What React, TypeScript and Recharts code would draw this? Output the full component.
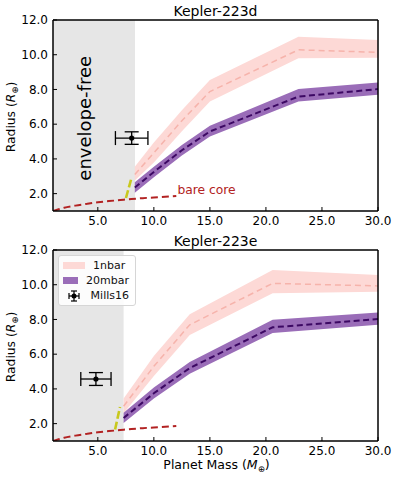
import React from "react";
import {
  ComposedChart,
  Area,
  Line,
  Scatter,
  ErrorBar,
  XAxis,
  YAxis,
  ReferenceArea,
  ReferenceDot,
  Legend,
} from "recharts";

const FONT = "'DejaVu Sans', sans-serif";

const X_TICKS = [5, 10, 15, 20, 25, 30];
const Y_TICKS = [2, 4, 6, 8, 10, 12];

// Kepler-223d
const dMass = [8.3, 10, 12.5, 15, 22.9, 30];
const d1nbar = [3.1, 4.35, 6.2, 7.88, 10.28, 10.14];
const d1nbarLo = [2.75, 3.8, 5.6, 7.3, 9.8, 9.82];
const d1nbarHi = [3.55, 4.95, 6.8, 8.55, 11.04, 10.85];
const d20mbar = [2.35, 3.25, 4.5, 5.58, 7.59, 8.02];
const d20mbarLo = [2.05, 2.95, 4.2, 5.29, 7.3, 7.69];
const d20mbarHi = [2.65, 3.55, 4.8, 5.91, 8.02, 8.4];
const dGasFree = 8.32;
const dMills = { mass: 8.02, radius: 5.2, errMass: 1.45, errRadius: 0.36 };
const dTransMass = [7.51, 7.96];
const dTransRadius = [1.75, 2.8];

// Kepler-223e
const eMass = [7.3, 10, 13.2, 20.6, 30];
const e1nbar = [3.0, 5.3, 7.69, 10.08, 9.93];
const e1nbarLo = [2.6, 4.75, 7.1, 9.51, 9.6];
const e1nbarHi = [3.45, 5.9, 8.3, 10.85, 10.56];
const e20mbar = [2.33, 3.75, 5.2, 7.55, 8.02];
const e20mbarLo = [2.03, 3.45, 4.88, 7.22, 7.69];
const e20mbarHi = [2.63, 4.08, 5.55, 7.98, 8.4];
const eGasFree = 7.3;
const eMills = { mass: 4.83, radius: 4.57, errMass: 1.35, errRadius: 0.37 };
const eTransMass = [6.54, 6.98];
const eTransRadius = [1.66, 2.96];

// bare rocky core
const coreMass = [1, 1.5, 2, 3, 4, 5, 6, 7, 8, 9, 10, 11, 12];
const coreRadius = [1.0, 1.1, 1.19, 1.31, 1.41, 1.5, 1.57, 1.63, 1.69, 1.74, 1.78, 1.82, 1.86];

const PINK_BAND = "#fdd9d6";
const PINK_LINE = "#f6b3ab";
const PURPLE_BAND = "#9a6db8";
const PURPLE_LINE = "#3c0863";
const CORE = "#b22222";
const TRANS = "#c8c81e";

const rows = (xs: number[], ys: number[], lo: number[], hi: number[]) =>
  xs.map((m, i) => ({ mass: m, r: ys[i], band: [lo[i], hi[i]] }));
const pts = (xs: number[], ys: number[]) => xs.map((m, i) => ({ mass: m, r: ys[i] }));

function LegendBox() {
  const row = { display: "flex", alignItems: "center", height: 15 } as const;
  return (
    <div
      style={{
        border: "1px solid #d6d6d6",
        borderRadius: 3,
        background: "rgba(255,255,255,0.85)",
        padding: "2px 6px 2px 4px",
        fontFamily: FONT,
        fontSize: 11,
        color: "#111",
        width: 66,
      }}
    >
      <div style={row}>
        <div style={{ width: 22, height: 7, background: PINK_BAND, marginRight: 8 }} />
        1nbar
      </div>
      <div style={row}>
        <div style={{ width: 22, height: 7, background: PURPLE_BAND, marginRight: 8 }} />
        20mbar
      </div>
      <div style={row}>
        <svg width={22} height={12} style={{ marginRight: 8 }}>
          <line x1={6} x2={16} y1={6} y2={6} stroke="#000" strokeWidth={1.2} />
          <line x1={11} x2={11} y1={1} y2={11} stroke="#000" strokeWidth={1.2} />
          <line x1={6} x2={6} y1={3} y2={9} stroke="#000" strokeWidth={1.2} />
          <line x1={16} x2={16} y1={3} y2={9} stroke="#000" strokeWidth={1.2} />
          <line x1={8} x2={14} y1={1} y2={1} stroke="#000" strokeWidth={1.2} />
          <line x1={8} x2={14} y1={11} y2={11} stroke="#000" strokeWidth={1.2} />
          <circle cx={11} cy={6} r={2.5} fill="#000" />
        </svg>
        Mills16
      </div>
    </div>
  );
}

type PanelProps = {
  mass: number[];
  a: number[];
  aLo: number[];
  aHi: number[];
  b: number[];
  bLo: number[];
  bHi: number[];
  gasFree: number;
  mills: { mass: number; radius: number; errMass: number; errRadius: number };
  transMass: number[];
  transRadius: number[];
  annotate: boolean;
  legend: boolean;
};

function Panel(p: PanelProps) {
  const bandA = rows(p.mass, p.a, p.aLo, p.aHi);
  const bandB = rows(p.mass, p.b, p.bLo, p.bHi);
  const core = pts(coreMass, coreRadius);
  const trans = pts(p.transMass, p.transRadius);
  const mills = [{ mass: p.mills.mass, r: p.mills.radius, ex: p.mills.errMass, ey: p.mills.errRadius }];
  const tickStyle = { fontSize: 12, fill: "#000", fontFamily: FONT };

  return (
    <ComposedChart width={397} height={230} margin={{ top: 19, right: 18, left: 0, bottom: 0 }}>
      <XAxis
        xAxisId={0}
        type="number"
        dataKey="mass"
        domain={[1, 30]}
        ticks={X_TICKS}
        allowDataOverflow
        tickFormatter={(v: number) => v.toFixed(1)}
        tick={tickStyle}
        tickSize={-4}
        tickMargin={9}
        height={19}
        stroke="#000"
        axisLine={{ stroke: "#000", strokeWidth: 1.5 }}
        tickLine={{ stroke: "#000" }}
      />
      <XAxis
        xAxisId="top"
        orientation="top"
        type="number"
        domain={[1, 30]}
        ticks={X_TICKS}
        allowDataOverflow
        tick={false}
        tickSize={-4}
        height={1}
        axisLine={{ stroke: "#000", strokeWidth: 1.5 }}
        tickLine={{ stroke: "#000" }}
      />
      <YAxis
        yAxisId={0}
        type="number"
        domain={[1, 12]}
        ticks={Y_TICKS}
        allowDataOverflow
        tickFormatter={(v: number) => v.toFixed(1)}
        tick={tickStyle}
        tickSize={-4}
        tickMargin={9}
        width={53}
        axisLine={{ stroke: "#000", strokeWidth: 1.5 }}
        tickLine={{ stroke: "#000" }}
      />
      <YAxis
        yAxisId="right"
        orientation="right"
        type="number"
        domain={[1, 12]}
        ticks={Y_TICKS}
        allowDataOverflow
        tick={false}
        tickSize={-4}
        width={1}
        axisLine={{ stroke: "#000", strokeWidth: 1.5 }}
        tickLine={{ stroke: "#000" }}
      />
      <ReferenceArea x1={1} x2={p.gasFree} y1={1} y2={12} fill="#e6e6e6" fillOpacity={1} stroke="none" />
      <Area
        data={bandA}
        dataKey="band"
        type="linear"
        stroke="none"
        fill={PINK_BAND}
        fillOpacity={1}
        isAnimationActive={false}
      />
      <Area
        data={bandB}
        dataKey="band"
        type="linear"
        stroke="none"
        fill={PURPLE_BAND}
        fillOpacity={1}
        isAnimationActive={false}
      />
      <Line
        data={bandA}
        dataKey="r"
        type="linear"
        stroke={PINK_LINE}
        strokeWidth={1.5}
        strokeDasharray="6 4"
        dot={false}
        isAnimationActive={false}
      />
      <Line
        data={bandB}
        dataKey="r"
        type="linear"
        stroke={PURPLE_LINE}
        strokeWidth={2}
        strokeDasharray="6 3.5"
        dot={false}
        isAnimationActive={false}
      />
      <Line
        data={core}
        dataKey="r"
        type="monotone"
        stroke={CORE}
        strokeWidth={2}
        strokeDasharray="7 4"
        dot={false}
        isAnimationActive={false}
      />
      <Line
        data={trans}
        dataKey="r"
        type="linear"
        stroke={TRANS}
        strokeWidth={2.6}
        strokeDasharray="8 3"
        dot={false}
        isAnimationActive={false}
      />
      <Scatter
        data={mills}
        dataKey="r"
        fill="#000"
        shape={(s: any) => <circle cx={s.cx} cy={s.cy} r={2.6} fill="#000" />}
        isAnimationActive={false}
      >
        <ErrorBar dataKey="ey" direction="y" width={7} stroke="#000" strokeWidth={1.3} />
        <ErrorBar dataKey="ex" direction="x" width={7} stroke="#000" strokeWidth={1.3} />
      </Scatter>
      {p.annotate && (
        <ReferenceDot
          x={3.84}
          y={6.34}
          r={0}
          fill="none"
          stroke="none"
          label={{
            content: (l: any) => (
              <text
                x={l.viewBox.x}
                y={l.viewBox.y}
                transform={`rotate(-90 ${l.viewBox.x} ${l.viewBox.y})`}
                textAnchor="middle"
                dominantBaseline="central"
                fontSize={18}
                fontFamily={FONT}
                fill="#000"
              >
                envelope-free
              </text>
            ),
          }}
        />
      )}
      {p.annotate && (
        <ReferenceDot
          x={12.1}
          y={1.97}
          r={0}
          fill="none"
          stroke="none"
          label={{
            content: (l: any) => (
              <text x={l.viewBox.x} y={l.viewBox.y} fontSize={12.3} fontFamily={FONT} fill={CORE}>
                bare core
              </text>
            ),
          }}
        />
      )}
      {p.legend && (
        <Legend
          layout="horizontal"
          verticalAlign="middle"
          align="center"
          wrapperStyle={{ top: 25, left: 58, width: "auto" }}
          content={() => <LegendBox />}
        />
      )}
    </ComposedChart>
  );
}

function AxisTitles({ title, xLabel }: { title: string; xLabel: boolean }) {
  return (
    <svg width={397} height={xLabel ? 249 : 230} style={{ position: "absolute", left: 0, top: 0, pointerEvents: "none" }}>
      <text x={215.5} y={16} textAnchor="middle" fontSize={14} fontFamily={FONT} fill="#000">
        {title}
      </text>
      <text
        x={15}
        y={117}
        transform="rotate(-90 15 117)"
        textAnchor="middle"
        fontSize={12.3}
        fontFamily={FONT}
        fill="#000"
      >
        Radius (<tspan fontStyle="italic">R</tspan>
        <tspan fontSize={8.5} dy={3}>⊕</tspan>
        <tspan dy={-3}>)</tspan>
      </text>
      {xLabel && (
        <text x={216.5} y={239} textAnchor="middle" fontSize={12.5} fontFamily={FONT} fill="#000">
          Planet Mass (<tspan fontStyle="italic">M</tspan>
          <tspan fontSize={8.5} dy={3}>⊕</tspan>
          <tspan dy={-3}>)</tspan>
        </text>
      )}
    </svg>
  );
}

export default function App() {
  return (
    <div style={{ position: "absolute", left: 0, top: 0, width: 397, height: 479, background: "#fff" }}>
      <div style={{ position: "absolute", left: 0, top: 0, width: 397, height: 230 }}>
        <Panel
          mass={dMass}
          a={d1nbar}
          aLo={d1nbarLo}
          aHi={d1nbarHi}
          b={d20mbar}
          bLo={d20mbarLo}
          bHi={d20mbarHi}
          gasFree={dGasFree}
          mills={dMills}
          transMass={dTransMass}
          transRadius={dTransRadius}
          annotate
          legend={false}
        />
        <AxisTitles title="Kepler-223d" xLabel={false} />
      </div>
      <div style={{ position: "absolute", left: 0, top: 230, width: 397, height: 249 }}>
        <Panel
          mass={eMass}
          a={e1nbar}
          aLo={e1nbarLo}
          aHi={e1nbarHi}
          b={e20mbar}
          bLo={e20mbarLo}
          bHi={e20mbarHi}
          gasFree={eGasFree}
          mills={eMills}
          transMass={eTransMass}
          transRadius={eTransRadius}
          annotate={false}
          legend
        />
        <AxisTitles title="Kepler-223e" xLabel />
      </div>
    </div>
  );
}
